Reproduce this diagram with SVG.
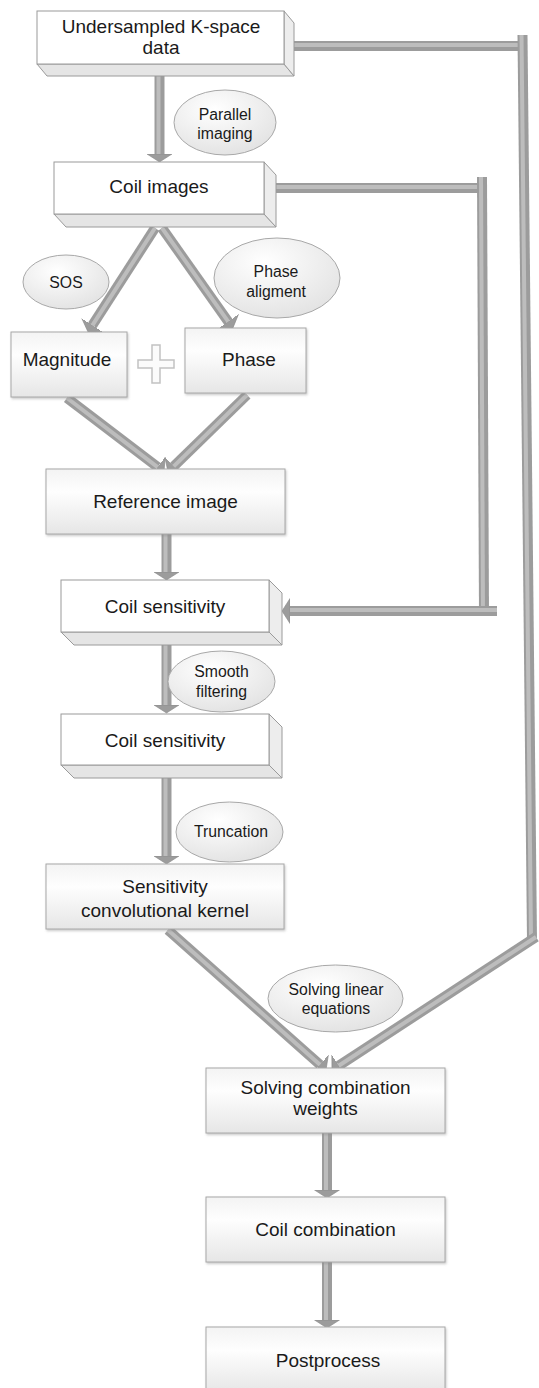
<svg xmlns="http://www.w3.org/2000/svg" width="539" height="1388" viewBox="0 0 539 1388">
<defs>
<style>
.t{font-family:"Liberation Sans",Arial,sans-serif;font-size:19px;fill:#1a1a1a;text-anchor:middle}
.l{font-family:"Liberation Sans",Arial,sans-serif;font-size:15.8px;fill:#1a1a1a;text-anchor:middle}
.front{fill:#ffffff;stroke:#9a9a9a;stroke-width:1}
.side{fill:#ededed;stroke:#9a9a9a;stroke-width:1}
.bottom{fill:#e5e5e5;stroke:#9a9a9a;stroke-width:1}
.flat{fill:url(#gFlat);stroke:#a8a8a8;stroke-width:1;filter:url(#sh)}
.ell{fill:url(#gEll);stroke:#a8a8a8;stroke-width:1}
.bar{fill:none;stroke:#9c9c9c;stroke-width:10;marker-end:url(#ah)}
.bar0{fill:none;stroke:#9c9c9c;stroke-width:10}
.hl{fill:none;stroke:#bdbdbd;stroke-width:4}
.plus{fill:#fbfbfb;stroke:#c2c2c2;stroke-width:1.5}
</style>
<linearGradient id="gFlat" x1="0" y1="0" x2="0" y2="1">
<stop offset="0" stop-color="#f3f3f3"/>
<stop offset="0.35" stop-color="#fefefe"/>
<stop offset="1" stop-color="#e6e6e6"/>
</linearGradient>
<radialGradient id="gEll" cx="0.4" cy="0.3" r="0.8">
<stop offset="0" stop-color="#ffffff"/>
<stop offset="1" stop-color="#e0e0e0"/>
</radialGradient>
<filter id="sh" x="-5%" y="-5%" width="110%" height="120%">
<feDropShadow dx="1" dy="1.5" stdDeviation="1" flood-color="#888" flood-opacity="0.45"/>
</filter>
<marker id="ah" markerUnits="userSpaceOnUse" markerWidth="10" markerHeight="28" viewBox="0 -14 10 28" refX="0" refY="0" orient="auto">
<path d="M0,-12.5 L8,0 L0,12.5 Z" fill="#9c9c9c" stroke="#888" stroke-width="0.6"/>
</marker>
</defs>
<rect width="539" height="1388" fill="#ffffff"/>

<g id="connectors">
<path class="bar0" d="M294,46 L527,46"/>
<path class="hl" d="M294,45 L527,45"/>
<path class="bar0" d="M522.5,35 L532,940"/>
<path class="hl" d="M521.5,35 L531,940"/>
<path class="bar" d="M536,937 L338.7,1065.7"/>
<path class="hl" d="M536,937 L338.7,1065.7"/>
<path class="bar0" d="M276,188 L486,188"/>
<path class="hl" d="M276,187 L486,187"/>
<path class="bar0" d="M482,177 L484,615"/>
<path class="hl" d="M481,177 L483,615"/>
<path class="bar" d="M497,611 L290,611"/>
<path class="hl" d="M497,610 L290,610"/>
<path class="bar" d="M159.5,75 L159.5,154"/>
<path class="hl" d="M158.5,75 L158.5,154"/>
<path class="bar" d="M155,228 L92.4,325.3"/>
<path class="hl" d="M155,228 L92.4,325.3"/>
<path class="bar" d="M162,228 L228.2,321.6"/>
<path class="hl" d="M162,228 L228.2,321.6"/>
<path class="bar" d="M67,398 L157.6,467.1"/>
<path class="hl" d="M67,398 L157.6,467.1"/>
<path class="bar" d="M247,395 L173.7,466.4"/>
<path class="hl" d="M247,395 L173.7,466.4"/>
<path class="bar" d="M166.5,534 L166.5,572"/>
<path class="hl" d="M165.5,534 L165.5,572"/>
<path class="bar" d="M166.5,645 L166.5,705"/>
<path class="hl" d="M165.5,645 L165.5,705"/>
<path class="bar" d="M166.5,778 L166.5,856"/>
<path class="hl" d="M165.5,778 L165.5,856"/>
<path class="bar" d="M168,930 L320,1064.7"/>
<path class="hl" d="M168,930 L320,1064.7"/>
<path class="bar" d="M327,1133 L327,1190"/>
<path class="hl" d="M326,1133 L326,1190"/>
<path class="bar" d="M327,1262 L327,1320"/>
<path class="hl" d="M326,1262 L326,1320"/>
</g>

<g id="n-kspace">
<polygon class="bottom" points="37,64 284,64 294,76 47,76"/>
<polygon class="side" points="284,11 294,23 294,76 284,64"/>
<rect class="front" x="37" y="11" width="247" height="53"/>
<text class="t" x="161" y="33">Undersampled K-space</text>
<text class="t" x="161" y="54">data</text>
</g>

<g id="n-parallel">
<ellipse class="ell" cx="225" cy="122.5" rx="51" ry="32.5"/>
<text class="l" x="225" y="120">Parallel</text>
<text class="l" x="225" y="139">imaging</text>
</g>

<g id="n-coilimages">
<polygon class="bottom" points="54,214 264,214 276,227 66,227"/>
<polygon class="side" points="264,162 276,175 276,227 264,214"/>
<rect class="front" x="54" y="162" width="210" height="52"/>
<text class="t" x="159" y="193">Coil images</text>
</g>

<g id="n-sos">
<ellipse class="ell" cx="66" cy="282" rx="43" ry="27"/>
<text class="l" x="66" y="288">SOS</text>
</g>

<g id="n-phasealign">
<ellipse class="ell" cx="277" cy="278" rx="63" ry="40"/>
<text class="l" x="276" y="277">Phase</text>
<text class="l" x="276" y="297">aligment</text>
</g>

<g id="n-magnitude">
<rect class="flat" x="11" y="332" width="116" height="65"/>
<text class="t" x="67" y="366">Magnitude</text>
</g>

<g id="n-plus">
<polygon class="plus" points="152,345 160,345 160,360 174,360 174,368 160,368 160,383 152,383 152,368 138,368 138,360 152,360"/>
</g>

<g id="n-phase">
<rect class="flat" x="185" y="328" width="121" height="65"/>
<text class="t" x="249" y="366">Phase</text>
</g>

<g id="n-reference">
<rect class="flat" x="46" y="469" width="239" height="65"/>
<text class="t" x="165.5" y="508">Reference image</text>
</g>

<g id="n-coilsens1">
<polygon class="bottom" points="61,632 269,632 282,645 74,645"/>
<polygon class="side" points="269,580 282,593 282,645 269,632"/>
<rect class="front" x="61" y="580" width="208" height="52"/>
<text class="t" x="165" y="613">Coil sensitivity</text>
</g>

<g id="n-smooth">
<ellipse class="ell" cx="221.5" cy="681.5" rx="53.5" ry="30.5"/>
<text class="l" x="221.5" y="677">Smooth</text>
<text class="l" x="221.5" y="697">filtering</text>
</g>

<g id="n-coilsens2">
<polygon class="bottom" points="61,765 269,765 282,778 74,778"/>
<polygon class="side" points="269,714 282,727 282,778 269,765"/>
<rect class="front" x="61" y="714" width="208" height="51"/>
<text class="t" x="165" y="747">Coil sensitivity</text>
</g>

<g id="n-truncation">
<ellipse class="ell" cx="229.5" cy="832" rx="53.5" ry="30"/>
<text class="l" x="231" y="837">Truncation</text>
</g>

<g id="n-kernel">
<rect class="flat" x="46" y="864" width="238" height="65"/>
<text class="t" x="165" y="893">Sensitivity</text>
<text class="t" x="165" y="917">convolutional kernel</text>
</g>

<g id="n-linear">
<ellipse class="ell" cx="335.5" cy="998.5" rx="67.5" ry="33.5"/>
<text class="l" x="336" y="995">Solving linear</text>
<text class="l" x="336" y="1014">equations</text>
</g>

<g id="n-weights">
<rect class="flat" x="206" y="1068" width="239" height="65"/>
<text class="t" x="325.5" y="1094">Solving combination</text>
<text class="t" x="325.5" y="1115">weights</text>
</g>

<g id="n-coilcomb">
<rect class="flat" x="206" y="1197" width="239" height="65"/>
<text class="t" x="325.5" y="1236">Coil combination</text>
</g>

<g id="n-postprocess">
<rect class="flat" x="206" y="1327" width="239" height="66"/>
<text class="t" x="328" y="1367">Postprocess</text>
</g>
</svg>
